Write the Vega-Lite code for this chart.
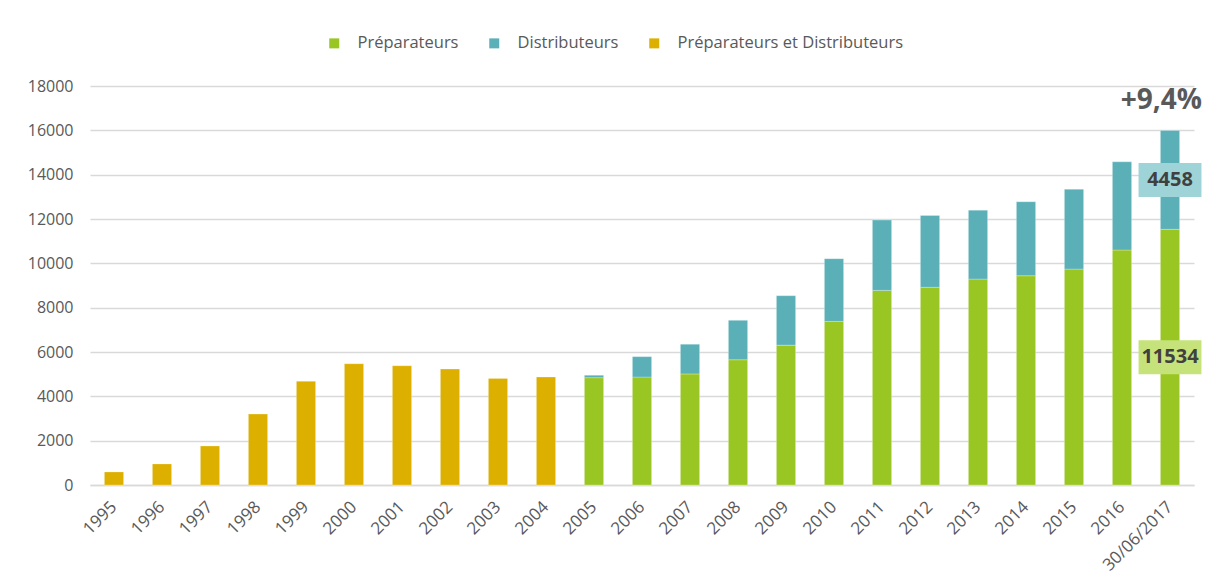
{
  "$schema": "https://vega.github.io/schema/vega-lite/v6.json",
  "autosize": {"type": "none"},
  "width": 1104,
  "height": 399,
  "padding": {"left": 90, "top": 86, "right": 12, "bottom": 103},
  "background": "white",
  "config": {
    "font": "Open Sans",
    "view": {"stroke": null},
    "axis": {"labelColor": "#595959", "labelFont": "Open Sans", "titleColor": "#595959"}
  },
  "datasets": {
    "effectifs": [
      {"annee": "1995", "type": "Préparateurs et Distributeurs", "valeur": 590},
      {"annee": "1996", "type": "Préparateurs et Distributeurs", "valeur": 950},
      {"annee": "1997", "type": "Préparateurs et Distributeurs", "valeur": 1760},
      {"annee": "1998", "type": "Préparateurs et Distributeurs", "valeur": 3200},
      {"annee": "1999", "type": "Préparateurs et Distributeurs", "valeur": 4680},
      {"annee": "2000", "type": "Préparateurs et Distributeurs", "valeur": 5470},
      {"annee": "2001", "type": "Préparateurs et Distributeurs", "valeur": 5380},
      {"annee": "2002", "type": "Préparateurs et Distributeurs", "valeur": 5230},
      {"annee": "2003", "type": "Préparateurs et Distributeurs", "valeur": 4810},
      {"annee": "2004", "type": "Préparateurs et Distributeurs", "valeur": 4870},
      {"annee": "2005", "type": "Préparateurs", "valeur": 4840},
      {"annee": "2005", "type": "Distributeurs", "valeur": 110},
      {"annee": "2006", "type": "Préparateurs", "valeur": 4870},
      {"annee": "2006", "type": "Distributeurs", "valeur": 920},
      {"annee": "2007", "type": "Préparateurs", "valeur": 5010},
      {"annee": "2007", "type": "Distributeurs", "valeur": 1340},
      {"annee": "2008", "type": "Préparateurs", "valeur": 5650},
      {"annee": "2008", "type": "Distributeurs", "valeur": 1780},
      {"annee": "2009", "type": "Préparateurs", "valeur": 6310},
      {"annee": "2009", "type": "Distributeurs", "valeur": 2230},
      {"annee": "2010", "type": "Préparateurs", "valeur": 7380},
      {"annee": "2010", "type": "Distributeurs", "valeur": 2830},
      {"annee": "2011", "type": "Préparateurs", "valeur": 8780},
      {"annee": "2011", "type": "Distributeurs", "valeur": 3170},
      {"annee": "2012", "type": "Préparateurs", "valeur": 8920},
      {"annee": "2012", "type": "Distributeurs", "valeur": 3240},
      {"annee": "2013", "type": "Préparateurs", "valeur": 9290},
      {"annee": "2013", "type": "Distributeurs", "valeur": 3110},
      {"annee": "2014", "type": "Préparateurs", "valeur": 9440},
      {"annee": "2014", "type": "Distributeurs", "valeur": 3340},
      {"annee": "2015", "type": "Préparateurs", "valeur": 9740},
      {"annee": "2015", "type": "Distributeurs", "valeur": 3600},
      {"annee": "2016", "type": "Préparateurs", "valeur": 10600},
      {"annee": "2016", "type": "Distributeurs", "valeur": 3980},
      {"annee": "30/06/2017", "type": "Préparateurs", "valeur": 11534},
      {"annee": "30/06/2017", "type": "Distributeurs", "valeur": 4458}
    ],
    "variation": [
      {"annee": "30/06/2017", "valeur": 17400, "texte": "+9,4%"}
    ]
  },
  "layer": [
    {
      "data": {"name": "effectifs"},
      "mark": {"type": "bar", "stroke": "white", "strokeOpacity": 0.5, "strokeWidth": 0.5},
      "encoding": {
        "x": {
          "field": "annee", "type": "ordinal", "sort": null,
          "scale": {"paddingInner": 0.6, "paddingOuter": 0.3},
          "axis": {
            "title": null, "labelAngle": -45, "labelFontSize": 17, "labelPadding": 19,
            "ticks": false, "domainColor": "#d9d9d9", "domainWidth": 1.5,
            "labelAlign": "right", "labelBaseline": "middle"
          }
        },
        "y": {
          "field": "valeur", "type": "quantitative", "stack": "zero",
          "scale": {"domain": [0, 18000], "nice": false},
          "axis": {
            "title": null, "values": [0,2000,4000,6000,8000,10000,12000,14000,16000,18000],
            "format": "d", "labelFontSize": 16, "labelPadding": 17,
            "ticks": false, "domain": false, "gridColor": "#d9d9d9", "gridWidth": 1.5
          }
        },
        "color": {
          "field": "type", "type": "nominal",
          "scale": {
            "domain": ["Préparateurs", "Distributeurs", "Préparateurs et Distributeurs"],
            "range": ["#99c623", "#5bb0b8", "#ddb000"]
          },
          "legend": {
            "title": null, "orient": "none", "direction": "horizontal",
            "legendX": 236, "legendY": -51,
            "symbolType": "square", "symbolSize": 100, "symbolStrokeWidth": 0,
            "labelFontSize": 16.5, "labelColor": "#595959", "labelFont": "Open Sans",
            "labelLimit": 0, "labelOffset": 15, "columnPadding": 27
          }
        },
        "order": {"field": "type", "sort": "descending"}
      }
    },
    {
      "data": {"name": "effectifs"},
      "transform": [
        {"filter": "datum.annee === '30/06/2017'"},
        {"stack": "valeur", "groupby": ["annee"], "sort": [{"field": "type", "order": "descending"}], "as": ["v0", "v1"]},
        {"calculate": "(datum.v0 + datum.v1) / 2", "as": "milieu"}
      ],
      "layer": [
        {
          "mark": {"type": "point", "filled": true, "opacity": 1, "shape": "M-1.85,-1H1.85V1H-1.85Z", "size": 1156, "clip": false},
          "encoding": {
            "x": {"field": "annee", "type": "ordinal", "sort": null},
            "y": {"field": "milieu", "type": "quantitative"},
            "fill": {"condition": {"test": "datum.type === 'Distributeurs'", "value": "#9ed3d8"}, "value": "#c5e37a"}
          }
        },
        {
          "mark": {"type": "text", "fontSize": 20, "fontWeight": "bold", "color": "#404040", "font": "Open Sans"},
          "encoding": {
            "x": {"field": "annee", "type": "ordinal", "sort": null},
            "y": {"field": "milieu", "type": "quantitative"},
            "text": {"field": "valeur", "type": "quantitative", "format": "d"}
          }
        }
      ]
    },
    {
      "data": {"name": "variation"},
      "mark": {"type": "text", "fontSize": 28, "fontWeight": "bold", "color": "#595959", "font": "Open Sans", "align": "right", "dx": 32, "dy": 2},
      "encoding": {
        "x": {"field": "annee", "type": "ordinal", "sort": null},
        "y": {"field": "valeur", "type": "quantitative"},
        "text": {"field": "texte", "type": "nominal"}
      }
    }
  ]
}
